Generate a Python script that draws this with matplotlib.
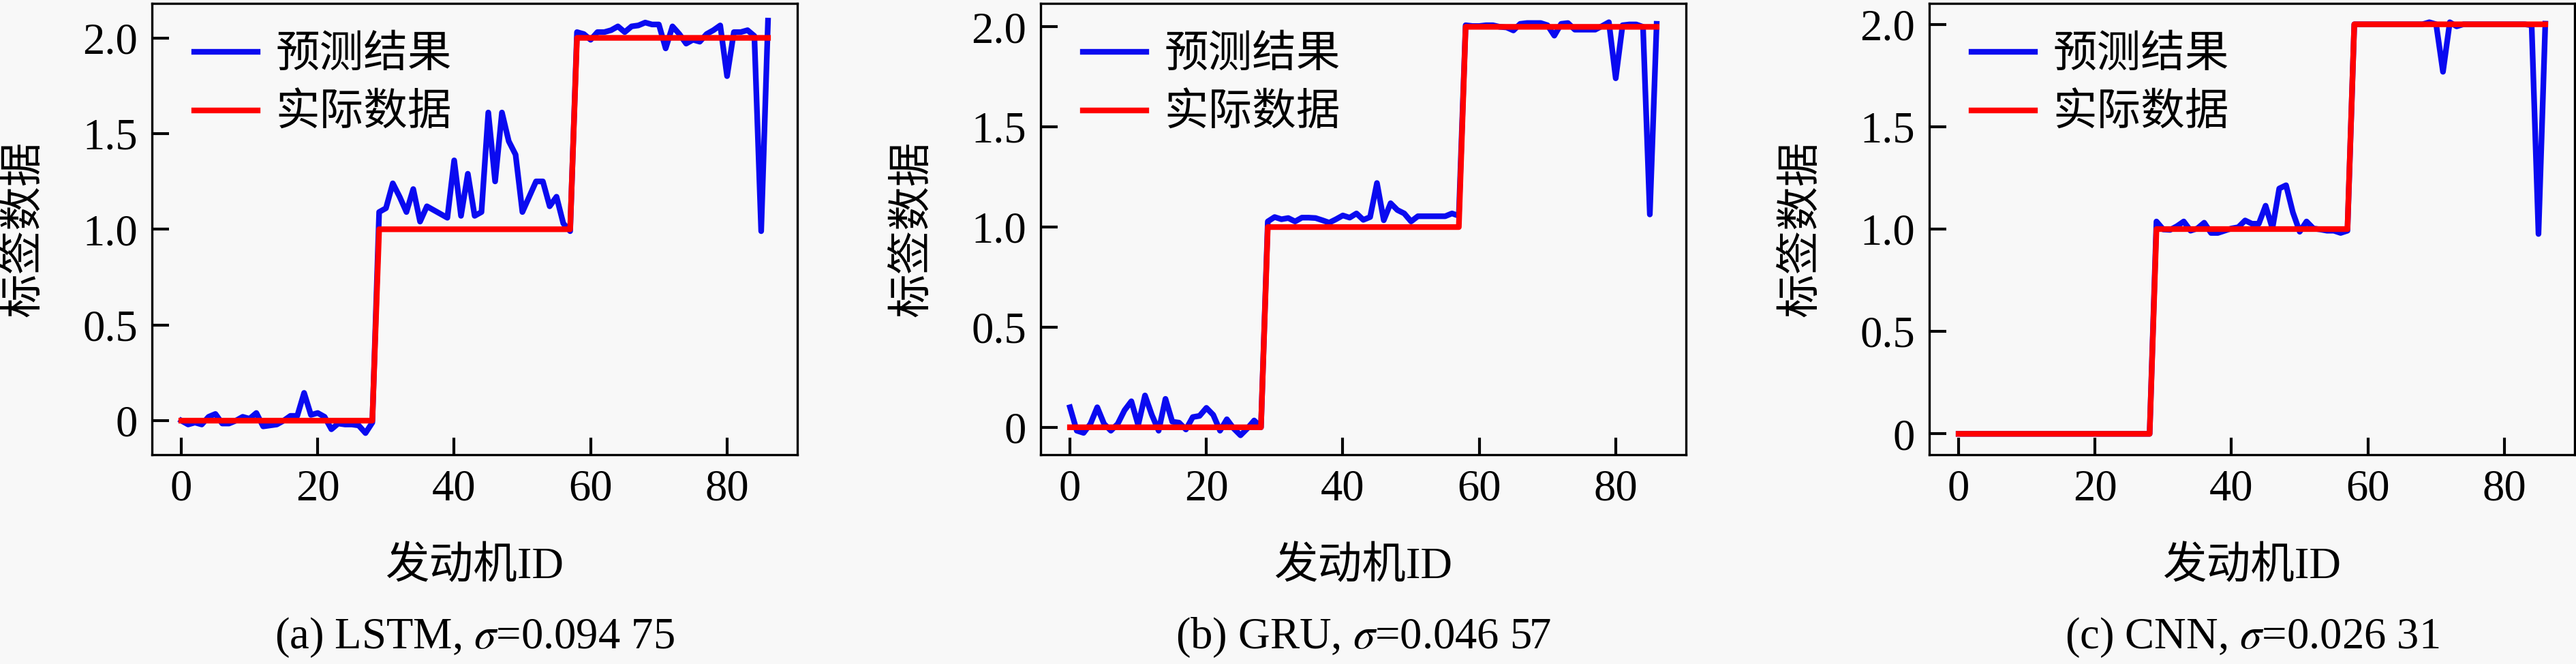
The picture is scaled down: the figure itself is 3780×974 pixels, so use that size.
import matplotlib
matplotlib.use('Agg')
import matplotlib.pyplot as plt
from matplotlib.ticker import FuncFormatter

plt.rcParams['font.family'] = ['Liberation Serif', 'Noto Sans CJK SC']
plt.rcParams['mathtext.fontset'] = 'stix'
plt.rcParams['axes.unicode_minus'] = False

engine_id = list(range(87))

# actual label (same in all three panels)
actual = [0, 0, 0, 0, 0, 0, 0, 0, 0, 0, 0, 0, 0, 0, 0, 0, 0, 0, 0, 0,
          0, 0, 0, 0, 0, 0, 0, 0, 0,
          1, 1, 1, 1, 1, 1, 1, 1, 1, 1, 1, 1, 1, 1, 1, 1, 1, 1, 1, 1,
          1, 1, 1, 1, 1, 1, 1, 1, 1,
          2, 2, 2, 2, 2, 2, 2, 2, 2, 2, 2, 2, 2, 2, 2, 2, 2, 2, 2, 2,
          2, 2, 2, 2, 2, 2, 2, 2, 2]

pred_lstm = [0.0, -0.02, -0.01, -0.02, 0.02, 0.035, -0.015, -0.015, 0.0, 0.02,
             0.01, 0.04, -0.03, -0.025, -0.02, 0.0, 0.025, 0.025, 0.145, 0.03,
             0.04, 0.02, -0.045, -0.015, -0.02, -0.02, -0.025, -0.065, -0.01,
             1.09, 1.11, 1.24, 1.17, 1.09, 1.21, 1.04, 1.12, 1.10, 1.08,
             1.06, 1.36, 1.07, 1.29, 1.07, 1.09, 1.61, 1.25, 1.61, 1.46,
             1.39, 1.09, 1.17, 1.25, 1.25, 1.12, 1.17, 1.03, 0.99,
             2.03, 2.02, 1.99, 2.03, 2.03, 2.04, 2.06, 2.03, 2.06, 2.065,
             2.08, 2.07, 2.07, 1.945, 2.06, 2.02, 1.97, 1.99, 1.98, 2.02,
             2.04, 2.065, 1.80, 2.03, 2.03, 2.04, 2.01, 0.99, 2.09]

pred_gru = [0.10, -0.017, -0.028, 0.017, 0.10, 0.017, -0.017, 0.017, 0.085, 0.13,
            0.011, 0.159, 0.062, -0.017, 0.142, 0.028, 0.023, -0.011, 0.051, 0.057,
            0.097, 0.062, -0.017, 0.04, -0.006, -0.04, -0.006, 0.034, 0.0,
            1.028, 1.05, 1.039, 1.045, 1.028, 1.047, 1.047, 1.045, 1.034, 1.022,
            1.039, 1.058, 1.047, 1.068, 1.036, 1.05, 1.22, 1.034, 1.119, 1.085,
            1.068, 1.028, 1.054, 1.054, 1.054, 1.054, 1.054, 1.068, 1.056,
            2.008, 2.004, 2.004, 2.008, 2.008, 2.0, 1.997, 1.982, 2.015, 2.019,
            2.019, 2.019, 2.008, 1.956, 2.015, 2.019, 1.986, 1.986, 1.986, 1.986,
            2.004, 2.023, 1.743, 2.008, 2.012, 2.012, 2.0, 1.063, 2.015]

pred_cnn = [0.0, 0.0, 0.0, 0.0, 0.0, 0.0, 0.0, 0.0, 0.0, 0.0,
            0.0, 0.0, 0.0, 0.0, 0.0, 0.0, 0.0, 0.0, 0.0, 0.0,
            0.0, 0.0, 0.0, 0.0, 0.0, 0.0, 0.0, 0.0, 0.0,
            1.037, 0.998, 0.996, 1.014, 1.037, 0.992, 1.003, 1.031, 0.981, 0.981,
            0.992, 1.003, 1.009, 1.042, 1.026, 1.026, 1.114, 1.003, 1.198, 1.214,
            1.081, 0.987, 1.037, 1.003, 0.998, 0.992, 0.992, 0.981, 0.992,
            2.0, 2.0, 2.0, 2.0, 2.0, 2.0, 2.0, 2.0, 2.0, 2.0,
            2.0, 2.01, 2.0, 1.768, 2.01, 1.99, 2.0, 2.0, 2.0, 2.0,
            2.0, 2.0, 2.0, 2.0, 2.0, 2.0, 1.995, 0.976, 2.003]

captions = ['(a) LSTM, $\\sigma$=0.094 75',
            '(b) GRU, $\\sigma$=0.046 57',
            '(c) CNN, $\\sigma$=0.026 31']
ylims = [(-0.178, 2.18), (-0.137, 2.117), (-0.102, 2.102)]
preds = [pred_lstm, pred_gru, pred_cnn]

W, H = 3780, 974
fig = plt.figure(figsize=(W / 300, H / 300), dpi=300, facecolor='#f8f8f8')
lefts = [223, 1527, 2831]
fs = 15.5

def yfmt(v, pos):
    return '0' if abs(v) < 1e-9 else '%.1f' % v

for k in range(3):
    ax = fig.add_axes([lefts[k] / W, (H - 667) / H, 947 / W, 662 / H])
    ax.set_facecolor('#f8f8f8')
    ax.plot(engine_id, preds[k], color='#0a0af0', lw=2.0, label='预测结果', zorder=2)
    ax.plot(engine_id, actual, color='#ff0000', lw=2.0, label='实际数据', zorder=3)
    ax.set_xlim(-4.3, 90.3)
    ax.set_ylim(*ylims[k])
    ax.set_xticks([0, 20, 40, 60, 80])
    ax.set_yticks([0, 0.5, 1.0, 1.5, 2.0])
    ax.yaxis.set_major_formatter(FuncFormatter(yfmt))
    ax.tick_params(direction='in', length=6, width=1.0, labelsize=fs, pad=5,
                   top=False, right=False)
    for s in ax.spines.values():
        s.set_linewidth(0.8)
    ax.set_xlabel('发动机ID', fontsize=fs, va='center')
    ax.set_ylabel('标签数据', fontsize=fs, va='center')
    ax.xaxis.set_label_coords(0.5, -0.249)
    ax.yaxis.set_label_coords(-0.1975, 0.5)
    ax.legend(loc='upper left', bbox_to_anchor=(0.065, 0.928), frameon=False,
              fontsize=fs, handlelength=1.45, handletextpad=0.4,
              labelspacing=0.4, borderaxespad=0, borderpad=0)
    ax.text(0.5, -0.405, captions[k], transform=ax.transAxes, ha='center',
            va='center', fontsize=fs)

fig.savefig('out.png', dpi=300, facecolor=fig.get_facecolor())
